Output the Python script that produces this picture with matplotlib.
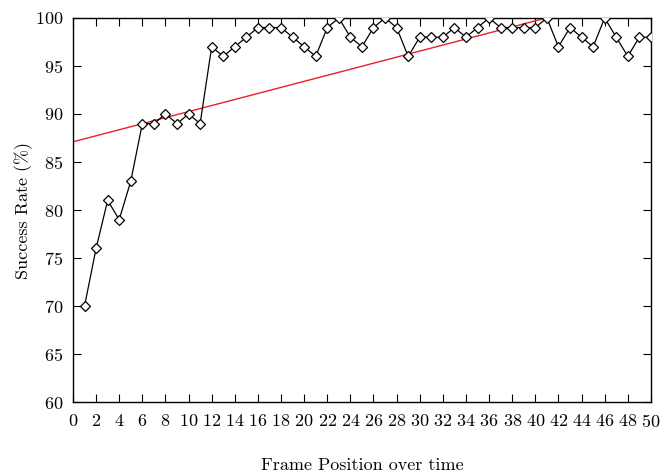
import numpy as np
import matplotlib.pyplot as plt

plt.rcParams['font.family'] = ['cmr10', 'DejaVu Serif']
plt.rcParams['axes.formatter.use_mathtext'] = True

# success rate per frame position
frames = list(range(1, 51))
success = [70, 76, 81, 79, 83, 89, 89, 90, 89, 90,
           89, 97, 96, 97, 98, 99, 99, 99, 98, 97,
           96, 99, 100, 98, 97, 99, 100, 99, 96, 98,
           98, 98, 99, 98, 99, 100, 99, 99, 99, 99,
           100, 97, 99, 98, 97, 100, 98, 96, 98, 98]

# linear trend drawn across the plot
trend_intercept = 87.1
trend_slope = 0.315

fig = plt.figure(figsize=(6.72, 4.73), dpi=100)
ax = fig.add_axes([0.1086, 0.150, 0.860, 0.812])

tx = np.array([0, 50])
ax.plot(tx, trend_intercept + trend_slope * tx, color='#e8202a', lw=1.0, zorder=2)
ax.plot(frames, success, color='black', lw=0.9, marker='D', markersize=5,
        markerfacecolor='white', markeredgecolor='black', markeredgewidth=0.9, zorder=3)

ax.set_xlim(0, 50)
ax.set_ylim(60, 100)
ax.set_xticks(range(0, 51, 2))
ax.set_yticks(range(60, 101, 5))
ax.tick_params(direction='in', top=True, right=True, length=6, labelsize=13)
ax.tick_params(axis='x', pad=8)
ax.tick_params(axis='y', pad=7)
for s in ax.spines.values():
    s.set_linewidth(1.0)

ax.set_xlabel('Frame Position over time', fontsize=13, labelpad=20)
ax.set_ylabel('Success Rate (%)', fontsize=13, labelpad=1)

fig.savefig('out.png', dpi=100)
